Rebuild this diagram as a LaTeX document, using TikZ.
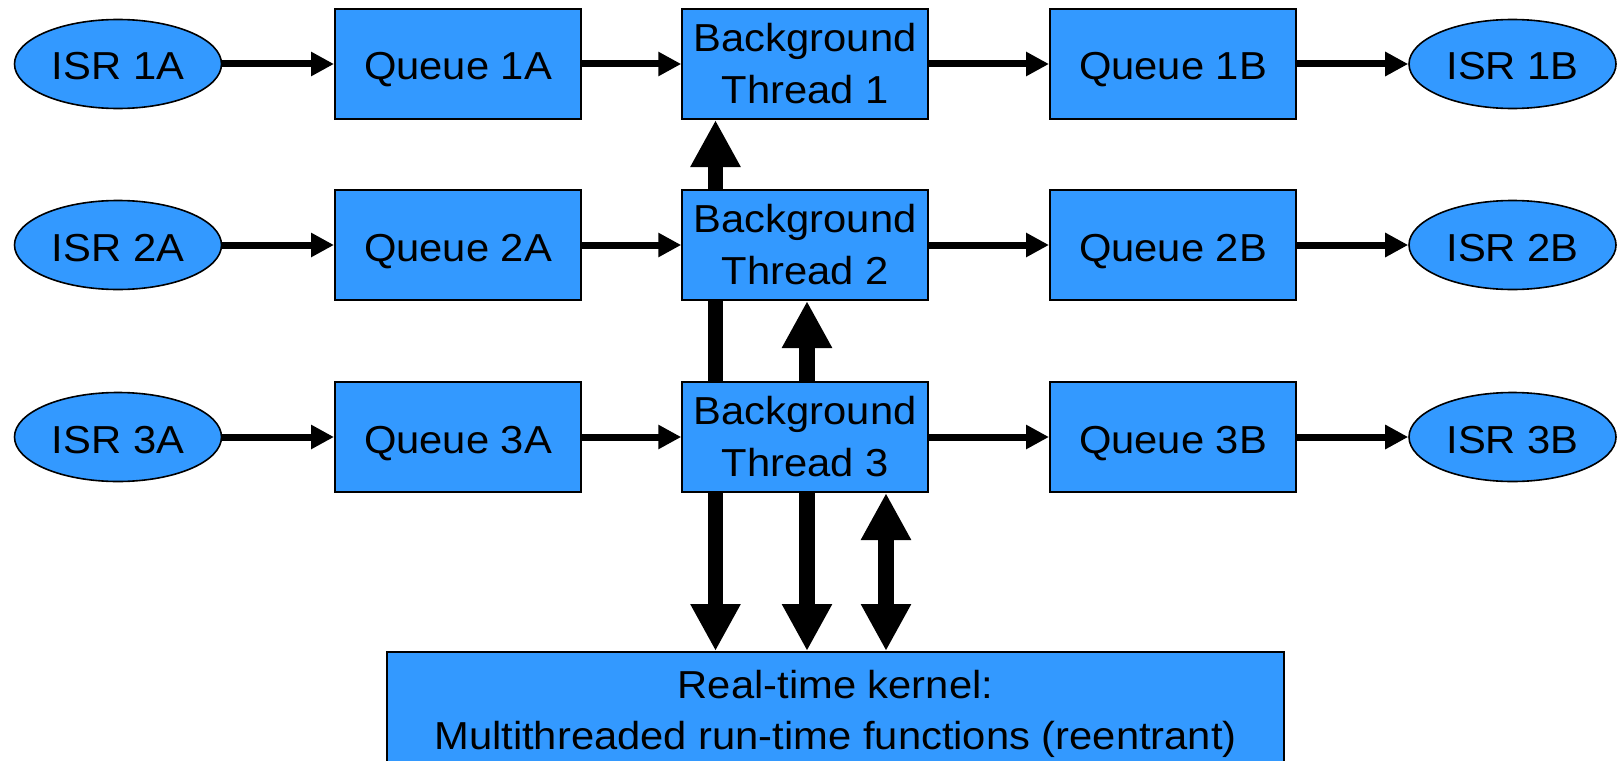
\documentclass[tikz,border=0pt]{standalone}
\usepackage{fontspec}
\setmainfont[FakeStretch=1.07]{Liberation Sans}
\usetikzlibrary{arrows.meta,shapes.geometric}
\pgfdeclarelayer{background}
\pgfsetlayers{background,main}
\definecolor{boxblue}{RGB}{51,153,255}
\begin{document}
\begin{tikzpicture}[x=1pt,y=-1pt,
  every node/.style={font=\fontsize{39}{52}\selectfont},
  bluebox/.style={draw=black,line width=2pt,fill=boxblue,inner sep=0pt,
    minimum width=246pt,minimum height=110pt},
  onetext/.style={text height=32pt,text depth=0pt},
  qbox/.style={bluebox,onetext},
  tbox/.style={bluebox,align=center},
  isr/.style={ellipse,draw=black,line width=1.6pt,fill=boxblue,inner sep=0pt,
    minimum width=207pt,minimum height=89pt,onetext},
  kbox/.style={draw=black,line width=2pt,fill=boxblue,align=center,
    inner xsep=0pt,inner ysep=18pt,minimum width=897pt,
    font=\fontsize{39}{51}\selectfont},
  harrow/.style={line width=7pt,-{Triangle[length=23pt,width=23pt]}},
  varrow/.style={line width=15.5pt,-{Triangle[length=47pt,width=47pt]}},
  dvarrow/.style={line width=15.5pt,{Triangle[length=47pt,width=47pt]}-{Triangle[length=47pt,width=47pt]}}
]
\useasboundingbox (0,0) rectangle (1619,760);

% row 1
\node[isr]  (i1a) at (118,64)    {ISR 1A};
\node[qbox] (q1a) at (458,64)    {Queue 1A};
\node[tbox] (t1)  at (805.25,64) {Background\\Thread 1};
\node[qbox] (q1b) at (1173,64)   {Queue 1B};
\node[isr]  (i1b) at (1512.5,64) {ISR 1B};
% row 2
\node[isr]  (i2a) at (118,245)    {ISR 2A};
\node[qbox] (q2a) at (458,245)    {Queue 2A};
\node[tbox] (t2)  at (805.25,245) {Background\\Thread 2};
\node[qbox] (q2b) at (1173,245)   {Queue 2B};
\node[isr]  (i2b) at (1512.5,245) {ISR 2B};
% row 3
\node[isr]  (i3a) at (118,437)    {ISR 3A};
\node[qbox] (q3a) at (458,437)    {Queue 3A};
\node[tbox] (t3)  at (805.25,437) {Background\\Thread 3};
\node[qbox] (q3b) at (1173,437)   {Queue 3B};
\node[isr]  (i3b) at (1512.5,437) {ISR 3B};
% kernel
\node[kbox,anchor=north] (kernel) at (835.5,651)
  {Real-time kernel:\\Multithreaded run-time functions (reentrant)};

% horizontal connectors
\foreach \r in {1,2,3}{
  \draw[harrow] (i\r a) -- (q\r a);
  \draw[harrow] (q\r a) -- (t\r);
  \draw[harrow] (t\r) -- (q\r b);
  \draw[harrow] (q\r b) -- (i\r b);
}

% vertical connectors
\coordinate (xa) at (715.5,0);
\coordinate (xb) at (807,0);
\coordinate (xc) at (886,0);
\begin{pgfonlayer}{background}
  \draw[varrow] (xa |- t3.north) -- (xa |- t1.south);
\end{pgfonlayer}
\draw[varrow] (xb |- t3.north) -- (xb |- t2.south);
\draw[varrow] (xa |- t3.south) -- (xa |- kernel.north);
\draw[varrow] (xb |- t3.south) -- (xb |- kernel.north);
\draw[dvarrow] (xc |- t3.south) -- (xc |- kernel.north);
\end{tikzpicture}
\end{document}
